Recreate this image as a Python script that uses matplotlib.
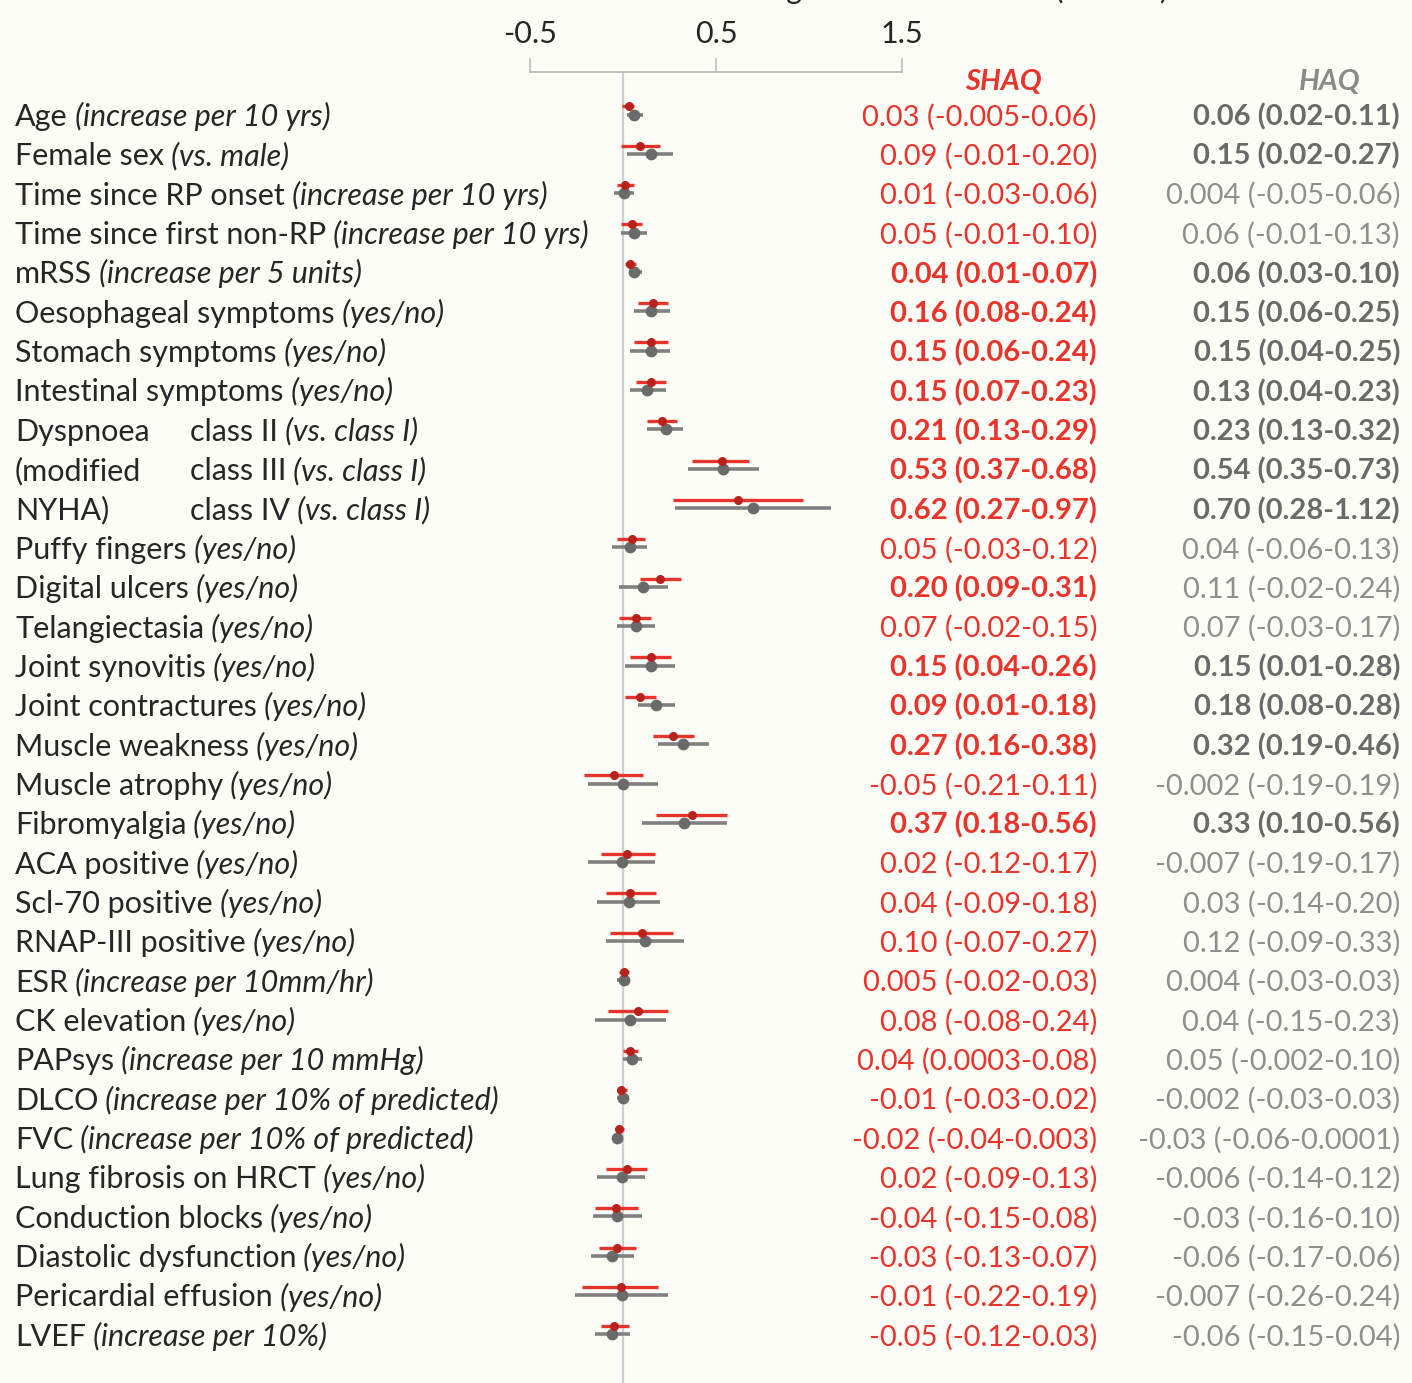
import matplotlib
matplotlib.use("Agg")
import matplotlib.pyplot as plt
from matplotlib import transforms

plt.rcParams['font.family'] = ['Lato', 'DejaVu Sans']

# ---------------- data ----------------
labels_main = ["Age", "Female sex", "Time since RP onset", "Time since first non-RP", "mRSS",
               "Oesophageal symptoms", "Stomach symptoms", "Intestinal symptoms",
               "class II", "class III", "class IV",
               "Puffy fingers", "Digital ulcers", "Telangiectasia", "Joint synovitis",
               "Joint contractures", "Muscle weakness", "Muscle atrophy", "Fibromyalgia",
               "ACA positive", "Scl-70 positive", "RNAP-III positive", "ESR", "CK elevation",
               "PAPsys", "DLCO", "FVC", "Lung fibrosis on HRCT", "Conduction blocks",
               "Diastolic dysfunction", "Pericardial effusion", "LVEF"]
labels_note = ["(increase per 10 yrs)", "(vs. male)", "(increase per 10 yrs)", "(increase per 10 yrs)",
               "(increase per 5 units)", "(yes/no)", "(yes/no)", "(yes/no)",
               "(vs. class I)", "(vs. class I)", "(vs. class I)",
               "(yes/no)", "(yes/no)", "(yes/no)", "(yes/no)", "(yes/no)", "(yes/no)", "(yes/no)",
               "(yes/no)", "(yes/no)", "(yes/no)", "(yes/no)", "(increase per 10mm/hr)", "(yes/no)",
               "(increase per 10 mmHg)", "(increase per 10% of predicted)",
               "(increase per 10% of predicted)", "(yes/no)", "(yes/no)", "(yes/no)", "(yes/no)",
               "(increase per 10%)"]
group_label = ["Dyspnoea", "(modified", "NYHA)"]

shaq_est = [0.03, 0.09, 0.01, 0.05, 0.04, 0.16, 0.15, 0.15, 0.21, 0.53, 0.62, 0.05, 0.20, 0.07,
            0.15, 0.09, 0.27, -0.05, 0.37, 0.02, 0.04, 0.10, 0.005, 0.08, 0.04, -0.01, -0.02,
            0.02, -0.04, -0.03, -0.01, -0.05]
shaq_lo = [-0.005, -0.01, -0.03, -0.01, 0.01, 0.08, 0.06, 0.07, 0.13, 0.37, 0.27, -0.03, 0.09,
           -0.02, 0.04, 0.01, 0.16, -0.21, 0.18, -0.12, -0.09, -0.07, -0.02, -0.08, 0.0003, -0.03,
           -0.04, -0.09, -0.15, -0.13, -0.22, -0.12]
shaq_hi = [0.06, 0.20, 0.06, 0.10, 0.07, 0.24, 0.24, 0.23, 0.29, 0.68, 0.97, 0.12, 0.31, 0.15,
           0.26, 0.18, 0.38, 0.11, 0.56, 0.17, 0.18, 0.27, 0.03, 0.24, 0.08, 0.02, 0.003, 0.13,
           0.08, 0.07, 0.19, 0.03]
haq_est = [0.06, 0.15, 0.004, 0.06, 0.06, 0.15, 0.15, 0.13, 0.23, 0.54, 0.70, 0.04, 0.11, 0.07,
           0.15, 0.18, 0.32, -0.002, 0.33, -0.007, 0.03, 0.12, 0.004, 0.04, 0.05, -0.002, -0.03,
           -0.006, -0.03, -0.06, -0.007, -0.06]
haq_lo = [0.02, 0.02, -0.05, -0.01, 0.03, 0.06, 0.04, 0.04, 0.13, 0.35, 0.28, -0.06, -0.02, -0.03,
          0.01, 0.08, 0.19, -0.19, 0.10, -0.19, -0.14, -0.09, -0.03, -0.15, -0.002, -0.03, -0.06,
          -0.14, -0.16, -0.17, -0.26, -0.15]
haq_hi = [0.11, 0.27, 0.06, 0.13, 0.10, 0.25, 0.25, 0.23, 0.32, 0.73, 1.12, 0.13, 0.24, 0.17,
          0.28, 0.28, 0.46, 0.19, 0.56, 0.17, 0.20, 0.33, 0.03, 0.23, 0.10, 0.03, 0.0001, 0.12,
          0.10, 0.06, 0.24, 0.04]
shaq_text = ["0.03 (-0.005-0.06)", "0.09 (-0.01-0.20)", "0.01 (-0.03-0.06)", "0.05 (-0.01-0.10)",
             "0.04 (0.01-0.07)", "0.16 (0.08-0.24)", "0.15 (0.06-0.24)", "0.15 (0.07-0.23)",
             "0.21 (0.13-0.29)", "0.53 (0.37-0.68)", "0.62 (0.27-0.97)", "0.05 (-0.03-0.12)",
             "0.20 (0.09-0.31)", "0.07 (-0.02-0.15)", "0.15 (0.04-0.26)", "0.09 (0.01-0.18)",
             "0.27 (0.16-0.38)", "-0.05 (-0.21-0.11)", "0.37 (0.18-0.56)", "0.02 (-0.12-0.17)",
             "0.04 (-0.09-0.18)", "0.10 (-0.07-0.27)", "0.005 (-0.02-0.03)", "0.08 (-0.08-0.24)",
             "0.04 (0.0003-0.08)", "-0.01 (-0.03-0.02)", "-0.02 (-0.04-0.003)", "0.02 (-0.09-0.13)",
             "-0.04 (-0.15-0.08)", "-0.03 (-0.13-0.07)", "-0.01 (-0.22-0.19)", "-0.05 (-0.12-0.03)"]
haq_text = ["0.06 (0.02-0.11)", "0.15 (0.02-0.27)", "0.004 (-0.05-0.06)", "0.06 (-0.01-0.13)",
            "0.06 (0.03-0.10)", "0.15 (0.06-0.25)", "0.15 (0.04-0.25)", "0.13 (0.04-0.23)",
            "0.23 (0.13-0.32)", "0.54 (0.35-0.73)", "0.70 (0.28-1.12)", "0.04 (-0.06-0.13)",
            "0.11 (-0.02-0.24)", "0.07 (-0.03-0.17)", "0.15 (0.01-0.28)", "0.18 (0.08-0.28)",
            "0.32 (0.19-0.46)", "-0.002 (-0.19-0.19)", "0.33 (0.10-0.56)", "-0.007 (-0.19-0.17)",
            "0.03 (-0.14-0.20)", "0.12 (-0.09-0.33)", "0.004 (-0.03-0.03)", "0.04 (-0.15-0.23)",
            "0.05 (-0.002-0.10)", "-0.002 (-0.03-0.03)", "-0.03 (-0.06-0.0001)", "-0.006 (-0.14-0.12)",
            "-0.03 (-0.16-0.10)", "-0.06 (-0.17-0.06)", "-0.007 (-0.26-0.24)", "-0.06 (-0.15-0.04)"]
shaq_sig = [0, 0, 0, 0, 1, 1, 1, 1, 1, 1, 1, 0, 1, 0, 1, 1, 1, 0, 1, 0, 0, 0, 0, 0, 0, 0, 0, 0, 0, 0, 0, 0]
haq_sig = [1, 1, 0, 0, 1, 1, 1, 1, 1, 1, 1, 0, 0, 0, 1, 1, 1, 0, 1, 0, 0, 0, 0, 0, 0, 0, 0, 0, 0, 0, 0, 0]
ticks = [-0.5, 0.5, 1.5]

# ---------------- layout ----------------
W, H = 1412, 1383
ZERO_PX, UNIT_PX = 623, 186
ROW0_PX, ROW_PX = 117, 39.35
BG = '#fdfdf8'
RED = '#e8342a'
RED_DARK = '#b8221c'
GREY = '#808080'
GREY_DARK = '#6a6a6a'
FS_LAB = 22
FS_NUM = 21
TXT = '#262626'

fig = plt.figure(figsize=(W / 100, H / 100), dpi=100, facecolor=BG)
ax = fig.add_axes([0, 0, 1, 1], facecolor=BG)
ax.set_xlim(-ZERO_PX / UNIT_PX, (W - ZERO_PX) / UNIT_PX)
ax.set_ylim((H - ROW0_PX) / ROW_PX, -ROW0_PX / ROW_PX)
ax.axis('off')

n = len(labels_main)
rows = list(range(n))

# zero line
AXIS_PX = 73
ax.axvline(0, ymin=0, ymax=1 - AXIS_PX / H, color='#cfcfcf', lw=1.6, zorder=1)

# CI lines and points
for i in rows:
    ax.plot([haq_lo[i], haq_hi[i]], [i - 0.06, i - 0.06], color=GREY, lw=2.6,
            solid_capstyle='butt', zorder=2)
    ax.plot([haq_est[i]], [i - 0.06], 'o', color=GREY_DARK, ms=8.5, mew=0, zorder=3)
    ax.plot([shaq_lo[i], shaq_hi[i]], [i - 0.27, i - 0.27], color=RED, lw=2.4,
            solid_capstyle='butt', zorder=4)
    ax.plot([shaq_est[i]], [i - 0.27], 'o', color=RED_DARK, ms=6.5, mew=0, zorder=5)

# text
tr = transforms.blended_transform_factory(fig.transFigure, ax.transData)
LABEL_X = 15 / W
CLASS_X = 190 / W
dys_rows = [8, 9, 10]
for i in rows:
    x = CLASS_X if i in dys_rows else LABEL_X
    t = ax.text(x, i, labels_main[i], transform=tr, fontsize=FS_LAB, color=TXT,
                va='center', ha='left')
    ax.annotate(" " + labels_note[i], xy=(1, 0), xycoords=t, va='bottom', ha='left',
                fontsize=FS_LAB, color=TXT, style='italic')
    ax.text(1097 / W, i, shaq_text[i], transform=tr, fontsize=FS_NUM, va='center', ha='right',
            color=RED, fontweight='bold' if shaq_sig[i] else 'normal')
    ax.text(1400 / W, i, haq_text[i], transform=tr, fontsize=FS_NUM,
            va='center', ha='right', color=GREY_DARK if haq_sig[i] else '#8f8f8f',
            fontweight='bold' if haq_sig[i] else 'normal')
for k, r in enumerate(dys_rows):
    ax.text(LABEL_X, r, group_label[k], transform=tr, fontsize=FS_LAB, color=TXT,
            va='center', ha='left')

# headers
ax.text(1003 / W, -0.9, "SHAQ", transform=tr, fontsize=FS_NUM, color=RED, fontweight='bold',
        style='italic', ha='center', va='center')
ax.text(1330 / W, -0.9, "HAQ", transform=tr, fontsize=FS_NUM, color='#8a8a8a', fontweight='bold',
        style='italic', ha='center', va='center')

# title, only its lowest part lies inside the picture (as in the reference)
fig.text(960 / W, 1 + 1 / H, "Regression coefficient (95% CI)", fontsize=FS_LAB,
         color=TXT, ha='center', va='baseline')

# scale axis
ax2 = fig.add_axes([(ZERO_PX + ticks[0] * UNIT_PX) / W, 1 - AXIS_PX / H,
                    (ticks[-1] - ticks[0]) * UNIT_PX / W, 0.001])
ax2.set_xlim(ticks[0], ticks[-1])
ax2.patch.set_alpha(0)
for s in ['left', 'right', 'bottom']:
    ax2.spines[s].set_visible(False)
ax2.spines['top'].set_color('#bfbfbf')
ax2.spines['top'].set_linewidth(1.4)
ax2.set_yticks([])
ax2.xaxis.tick_top()
ax2.set_xticks(ticks)
ax2.set_xticklabels([f"{t:g}" for t in ticks])
ax2.tick_params(axis='x', direction='out', length=10, width=1.2, color='#bfbfbf',
                labelsize=FS_LAB, labelcolor=TXT, pad=7)

fig.savefig("out.png", dpi=100, facecolor=BG)
